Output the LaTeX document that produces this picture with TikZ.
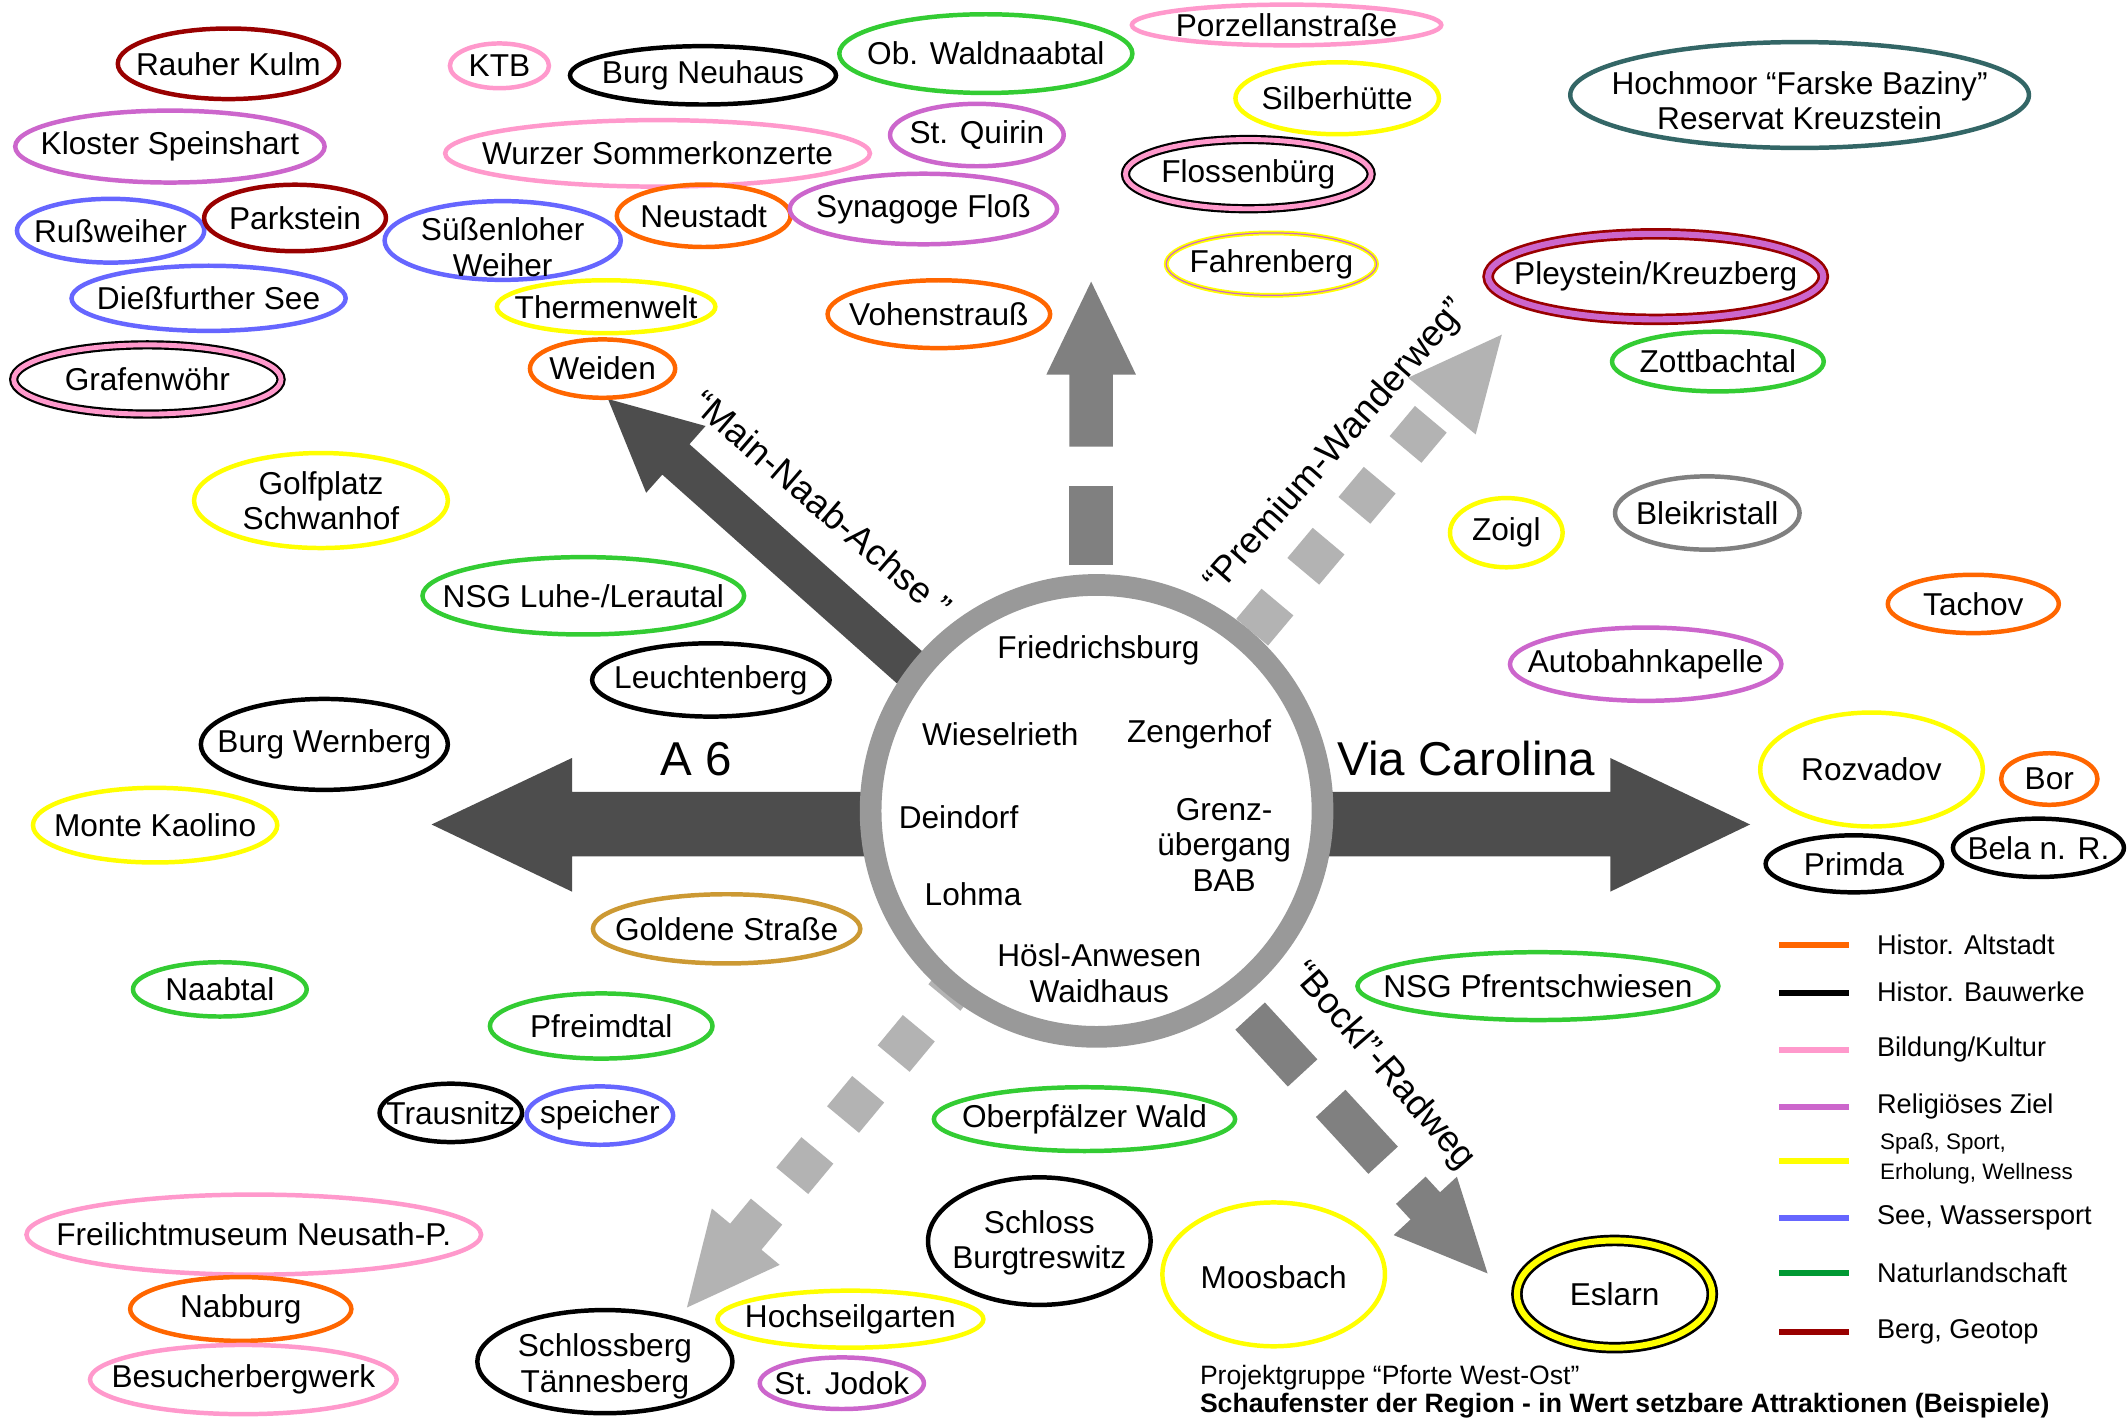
\documentclass[tikz,border=0pt]{standalone}
\usepackage{fontspec}
\setmainfont{Liberation Sans}
\definecolor{cRed}{HTML}{990000}
\definecolor{cMag}{HTML}{CC66CC}
\definecolor{cPink}{HTML}{FF99CC}
\definecolor{cBlue}{HTML}{6666FF}
\definecolor{cGreen}{HTML}{33CC33}
\definecolor{cOra}{HTML}{FF6600}
\definecolor{cYel}{HTML}{FFFF00}
\definecolor{cGold}{HTML}{CC9933}
\definecolor{cTeal}{HTML}{336666}
\definecolor{cGray}{HTML}{808080}
\definecolor{cLegGreen}{HTML}{009933}
\definecolor{arrDark}{HTML}{4D4D4D}
\definecolor{arrMid}{HTML}{808080}
\definecolor{arrLight}{HTML}{B3B3B3}
\definecolor{ringGray}{HTML}{999999}
% one attraction: name, x, y, width, height, outline style, text offset, text
\newcommand{\attraction}[8]{%
  \draw[#6] (#2,#3) ellipse [x radius={#4/2}, y radius={#5/2}];
  \node[txt] (#1) at (#2,{#3+(#7)}) {#8};}
\begin{document}
\begin{tikzpicture}[x=1pt,y=-1pt,
  ov/.style={draw=#1, line width=3.3pt},
  dbl/.style 2 args={draw=#1, double=#2, line width=1.6pt, double distance=3.6pt},
  txt/.style={font=\fontsize{23.3}{26}\selectfont, align=center, inner sep=0pt},
  big/.style={font=\fontsize{35}{40}\selectfont, inner sep=0pt},
  way/.style={font=\fontsize{27}{30}\selectfont, inner sep=0pt},
  leg/.style={font=\fontsize{20}{22}\selectfont, inner sep=0pt, anchor=west},
  legsm/.style={font=\fontsize{16.5}{20}\selectfont, inner sep=0pt, anchor=west},
  legline/.style={line width=4.5pt, draw=#1},
  foot/.style={font=\fontsize{19.6}{22}\selectfont, inner sep=0pt, anchor=west}
]
\useasboundingbox (0,0) rectangle (1568,1045);
\fill[white] (0,0) rectangle (1568,1045);

% ---------------- arrows leaving the hub ----------------
% A 6 (west)
\fill[arrDark] (645,583.5) -- (421.5,583.5) -- (421.5,558.5) -- (318,607.5)
  -- (421.5,657) -- (421.5,631) -- (645,631) -- cycle;
% Via Carolina (east)
\fill[arrDark] (968,583.5) -- (1186.5,583.5) -- (1186.5,558.5) -- (1289.5,607.5)
  -- (1186.5,657) -- (1186.5,631) -- (968,631) -- cycle;
% north, dashed
\fill[arrMid] (788,329) -- (788,276) -- (771,276) -- (804,207.5) -- (837,276)
  -- (820,276) -- (820,329) -- cycle;
\fill[arrMid] (788,358) rectangle (820,416);
% Main-Naab-Achse (north-west)
\fill[arrDark] (683.3,483.3) -- (508,327.3) -- (519.9,313.9) -- (448,294)
  -- (476.1,363.1) -- (488,349.7) -- (663.3,505.7) -- cycle;
% Premium-Wanderweg (north-east), dotted
\begin{scope}[shift={(1106.6,246.6)}, rotate=50]
  \fill[arrLight] (0,0) -- (-68.7,32.5) -- (-68.7,-32.5) -- cycle;
  \foreach \c in {95.9,154.5,213.1,271.7,330.3}
    {\fill[arrLight] ({-\c-14.5},-15.3) rectangle ({-\c+14.5},15.3);}
\end{scope}
% Bockl-Radweg (south-east), dashed
\begin{scope}[shift={(1096.1,938.3)}, rotate=-47.3]
  \fill[arrMid] (0,0) -- (-67.7,31.7) -- (-67.7,14.8) -- (-83.4,14.8)
    -- (-83.4,-14.8) -- (-67.7,-14.8) -- (-67.7,-31.7) -- cycle;
  \foreach \c in {142,229.5}
    {\fill[arrMid] ({-\c-28.5},-14.8) rectangle ({-\c+28.5},14.8);}
\end{scope}
% south-west, dotted
\begin{scope}[shift={(506.2,963.4)}, rotate=230.3]
  \fill[arrLight] (0,0) -- (-67.8,32.5) -- (-67.8,15) -- (-91.8,15)
    -- (-91.8,-15) -- (-67.8,-15) -- (-67.8,-32.5) -- cycle;
  \foreach \c in {135.9,194.5,252.9,311.4}
    {\fill[arrLight] ({-\c-14.5},-15.3) rectangle ({-\c+14.5},15.3);}
\end{scope}

% ---------------- hub ----------------
\node[circle, draw=ringGray, line width=16pt, fill=white, minimum size=333pt, inner sep=0pt] (hub) at (808,597.5) {};
\node[txt] (friedrichsburg) at (809.4,479.5) {Friedrichsburg};
\node[txt] (wieselrieth) at (737,541) {Wieselrieth};
\node[txt] (zengerhof) at (883.6,541) {Zengerhof};
\node[txt] (deindorf) at (706.3,601.8) {Deindorf};
\node[txt] (grenz) at (902,622.5) {Grenz-\\übergang\\BAB};
\node[txt] (lohma) at (717,658.8) {Lohma};
\node[txt] (hoesl) at (810,717) {Hösl-Anwesen\\Waidhaus};

% ---------------- route labels ----------------
\node[big] (a6) at (512.8,559.7) {A 6};
\node[big] (via) at (1080.6,558.8) {Via Carolina};
\node[way, rotate=-40.8] (mainnaab) at (606,372) {“Main-Naab-Achse ”};
\node[way, rotate=48.7] (premium) at (985,329) {“Premium-Wanderweg”};
\node[way, rotate=-49] (bockl) at (1019,786) {“Bockl”-Radweg};

% ---------------- attractions ----------------
\attraction{rauher}{168.3}{47}{163}{52}{ov=cRed}{0}{Rauher Kulm}
\attraction{speinshart}{125.2}{108}{228}{53}{ov=cMag}{0}{Kloster Speinshart}
\attraction{russ}{81.5}{170}{138}{47}{ov=cBlue}{0}{Rußweiher}
\attraction{parkstein}{217.4}{160.6}{134}{49}{ov=cRed}{0}{Parkstein}
\attraction{diess}{153.7}{219.8}{202}{48}{ov=cBlue}{0}{Dießfurther See}
\attraction{grafen}{108.6}{279.6}{197}{51}{dbl={black}{cPink}}{0}{Grafenwöhr}
\attraction{ktb}{368}{48.5}{73}{33}{ov=cPink}{0}{KTB}
\attraction{neuhaus}{518}{55.5}{196}{43}{ov=black}{0}{Burg Neuhaus}
\attraction{wurzer}{484.5}{113}{313}{49}{ov=cPink}{0}{Wurzer Sommerkonzerte}
\attraction{waldnaab}{726.4}{39.5}{216}{58}{ov=cGreen}{0}{Ob. Waldnaabtal}
\attraction{quirin}{719.8}{99.5}{128}{46}{ov=cMag}{0}{St. Quirin}
\attraction{porzellan}{948}{18.4}{228}{30}{ov=cPink}{0}{Porzellanstraße}
\attraction{silber}{985.3}{72.4}{150}{53}{ov=cYel}{0}{Silberhütte}
\attraction{flossen}{919.8}{128.3}{181}{51}{dbl={black}{cPink}}{0}{Flossenbürg}
\attraction{fahren}{936.8}{194.6}{155}{46}{draw=cYel, double=cMag, line width=1.3pt, double distance=0.9pt}{0}{Fahrenberg}
\attraction{suessen}{370.4}{177.2}{174}{58}{ov=cBlue}{5}{Süßenloher\\Weiher}
\attraction{neustadt}{518.5}{159}{128}{46}{ov=cOra}{0}{Neustadt}
\attraction{synagoge}{680.4}{154}{197}{52}{ov=cMag}{0}{Synagoge Floß}
\attraction{thermen}{446.6}{226}{161}{39}{ov=cYel}{0}{Thermenwelt}
\attraction{weiden}{444}{271.6}{107}{43}{ov=cOra}{0}{Weiden}
\attraction{vohen}{691.8}{231.5}{164}{50}{ov=cOra}{0}{Vohenstrauß}
\attraction{hochmoor}{1326}{70}{338}{78}{ov=cTeal}{4}{Hochmoor “Farske Baziny”\\Reservat Kreuzstein}
\attraction{pleystein}{1220}{203.8}{247}{63}{draw=cRed, double=cMag, line width=2pt, double distance=4.5pt}{0}{Pleystein/Kreuzberg}
\attraction{zott}{1265.8}{266.4}{156}{44}{ov=cGreen}{0}{Zottbachtal}
\attraction{golf}{236.5}{368.8}{187}{70}{ov=cYel}{0}{Golfplatz\\Schwanhof}
\attraction{luhe}{429.8}{439}{237}{57}{ov=cGreen}{0}{NSG Luhe-/Lerautal}
\attraction{leuchten}{523.8}{501}{175}{54}{ov=black}{0}{Leuchtenberg}
\attraction{wernberg}{239}{548.5}{182}{67}{ov=black}{0}{Burg Wernberg}
\attraction{kaolino}{114.3}{608}{180}{55}{ov=cYel}{0}{Monte Kaolino}
\attraction{zoigl}{1109.9}{392.5}{83}{51}{ov=cYel}{0}{Zoigl}
\attraction{blei}{1258}{378}{136}{54}{ov=cGray}{0}{Bleikristall}
\attraction{tachov}{1454}{445}{126}{43}{ov=cOra}{0}{Tachov}
\attraction{kapelle}{1212.6}{489.4}{200}{54}{ov=cMag}{0}{Autobahnkapelle}
\attraction{rozvadov}{1379}{567}{164}{84}{ov=cYel}{0}{Rozvadov}
\attraction{bor}{1510}{574}{71}{38}{ov=cOra}{0}{Bor}
\attraction{primda}{1366}{636.5}{130}{42}{ov=black}{0}{Primda}
\attraction{bela}{1502}{624.7}{126}{43}{ov=black}{0}{Bela n. R.}
\attraction{goldene}{535.4}{684.4}{197}{51}{ov=cGold}{0}{Goldene Straße}
\attraction{naabtal}{162}{729}{128}{40}{ov=cGreen}{0}{Naabtal}
\attraction{pfreimd}{443}{756}{164}{48}{ov=cGreen}{0}{Pfreimdtal}
\attraction{trausnitz}{332.2}{820}{105}{43}{ov=black}{0}{Trausnitz}
\attraction{speicher}{442}{822}{108}{43}{ov=cBlue}{0}{speicher}
\attraction{opfwald}{799.1}{824.6}{222}{47}{ov=cGreen}{0}{Oberpfälzer Wald}
\attraction{pfrentsch}{1133.2}{726.6}{266}{50}{ov=cGreen}{0}{NSG Pfrentschwiesen}
\attraction{freilicht}{187}{909.7}{335}{59}{ov=cPink}{0}{Freilichtmuseum Neusath-P.}
\attraction{nabburg}{177.4}{964.5}{163}{47}{ov=cOra}{0}{Nabburg}
\attraction{bergwerk}{179.3}{1016.5}{226}{51}{ov=cPink}{0}{Besucherbergwerk}
\attraction{taennesberg}{445.7}{1003.3}{188}{76}{ov=black}{3.5}{Schlossberg\\Tännesberg}
\attraction{hochseil}{626.6}{972}{196}{42}{ov=cYel}{0}{Hochseilgarten}
\attraction{jodok}{620.3}{1019.2}{121}{38}{ov=cMag}{0}{St. Jodok}
\attraction{burgtres}{765.8}{914.5}{164}{94}{ov=black}{1.5}{Schloss\\Burgtreswitz}
\attraction{moosbach}{938.5}{939}{164}{106}{ov=cYel}{2}{Moosbach}
\attraction{eslarn}{1189.7}{953.5}{144}{79}{draw=black, double=cYel, line width=2pt, double distance=4.5pt}{0}{Eslarn}

% ---------------- legend ----------------
\draw[legline=cOra] (1311,696.4) -- (1362.6,696.4);
\draw[legline=black] (1311,731.5) -- (1362.6,731.5);
\draw[legline=cPink] (1311,773.8) -- (1362.6,773.8);
\draw[legline=cMag] (1311,815.5) -- (1362.6,815.5);
\draw[legline=cYel] (1311,855.3) -- (1362.6,855.3);
\draw[legline=cBlue] (1311,897.3) -- (1362.6,897.3);
\draw[legline=cLegGreen] (1311,938.3) -- (1362.6,938.3);
\draw[legline=cRed] (1311,981.3) -- (1362.6,981.3);
\node[leg] (lgAlt) at (1382.9,696.4) {Histor. Altstadt};
\node[leg] (lgBau) at (1382.9,731) {Histor. Bauwerke};
\node[leg] (lgBild) at (1382.9,773) {Bildung/Kultur};
\node[leg] (lgRel) at (1382.9,815) {Religiöses Ziel};
\node[legsm] (lgSpass) at (1385.2,842.6) {Spaß, Sport,};
\node[legsm] (lgErh) at (1385.2,864.7) {Erholung, Wellness};
\node[leg] (lgSee) at (1382.9,897) {See, Wassersport};
\node[leg] (lgNat) at (1382.9,938) {Naturlandschaft};
\node[leg] (lgBerg) at (1382.9,981) {Berg, Geotop};

% ---------------- footer ----------------
\node[foot] (proj) at (884,1014.8) {Projektgruppe “Pforte West-Ost”};
\node[foot, font=\bfseries\fontsize{19.6}{22}\selectfont] (schau) at (884,1035.9) {Schaufenster der Region - in Wert setzbare Attraktionen (Beispiele)};
\end{tikzpicture}
\end{document}
